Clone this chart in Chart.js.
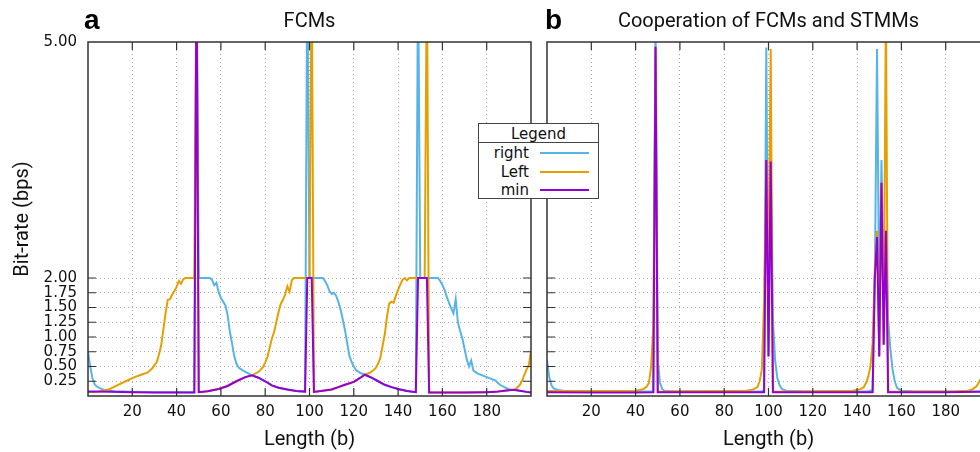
<!DOCTYPE html>
<html>
<head>
<meta charset="utf-8">
<title>FCMs / Cooperation of FCMs and STMMs</title>
<script src="https://cdn.jsdelivr.net/npm/chart.js@4.4.0/dist/chart.umd.min.js"></script>
<style>
  html, body { margin: 0; padding: 0; background: #fff; overflow: hidden; }
  body { width: 980px; height: 452px; position: relative; }
  .panel { position: absolute; top: 0; height: 452px; }
  #panelA { left: 0; width: 540px; }
  #panelB { left: 540px; width: 460px; }
  #legend {
    position: absolute; left: 478px; top: 123px; width: 121px; height: 76px;
    border: 1.5px solid #444; background: #fff; box-sizing: border-box; z-index: 2;
    font-family: "DejaVu Sans"; font-size: 15px; color: #111;
  }
  #legend .head { position: absolute; left: 0; top: 0; width: 100%; height: 18px;
    line-height: 20px; text-align: center; border-bottom: 1.5px solid #444; }
  #legend .row { position: absolute; left: 0; width: 100%; height: 18px; line-height: 18px; }
  #legend .name { position: absolute; left: 0; width: 50px; text-align: right; }
  #legend .swatch { position: absolute; left: 61px; width: 49px; height: 2px; top: 8px; }
</style>
</head>
<body>
<div class="panel" id="panelA"><canvas id="chartA"></canvas></div>
<div class="panel" id="panelB"><canvas id="chartB"></canvas></div>
<div id="legend"></div>

<script>
/*======== DATOS =============*/
const lengthTicks = [20, 40, 60, 80, 100, 120, 140, 160, 180];
const rateTicks = [0.25, 0.50, 0.75, 1.00, 1.25, 1.50, 1.75, 2.00, 5.00];
const seriesNames = ['right', 'Left', 'min'];
const seriesColors = ['#56b4e9', '#e69f00', '#9400d3'];

// panel a: FCMs  [length, bps]
const fcmRight = [[0,0.75],[1,0.50],[2,0.30],[3,0.20],[4,0.16],[6,0.12],[8,0.10],[12,0.08],[20,0.07],[30,0.065],[48,0.065],[49,6.0],[50,2.0],[55,2.0],[56,1.97],[57,1.88],[58,1.92],[59,1.76],[60,1.66],[61,1.60],[62,1.54],[63,1.38],[64,1.10],[65,0.90],[66,0.68],[67,0.55],[68,0.48],[70,0.43],[72,0.39],[74,0.35],[77,0.31],[80,0.25],[83,0.18],[86,0.14],[90,0.11],[94,0.085],[98,0.075],[99,6.0],[100,2.0],[106,2.0],[107,1.95],[108,1.88],[109,1.78],[110,1.73],[111,1.75],[112,1.70],[113,1.60],[114,1.47],[115,1.30],[116,1.12],[117,0.90],[118,0.68],[119,0.58],[120,0.50],[121,0.44],[123,0.39],[125,0.36],[128,0.31],[131,0.25],[134,0.19],[137,0.15],[140,0.12],[144,0.085],[148,0.065],[149,6.0],[150,2.0],[158,2.0],[159,1.95],[160,1.88],[161,1.80],[162,1.68],[163,1.58],[164,1.48],[165,1.40],[166,1.64],[167,1.25],[168,1.10],[169,0.98],[170,0.80],[171,0.62],[172,0.50],[173,0.60],[174,0.43],[176,0.38],[180,0.32],[184,0.26],[186,0.19],[188,0.15],[190,0.115],[192,0.10],[195,0.09],[198,0.07],[200,0.06]];
const fcmLeft = [[0,0.065],[4,0.07],[6,0.085],[8,0.10],[10,0.12],[12,0.16],[17,0.25],[21,0.32],[24,0.36],[27,0.40],[29,0.47],[31,0.57],[32,0.70],[33,0.85],[34,1.12],[35,1.40],[36,1.63],[37,1.64],[38,1.72],[39,1.78],[40,1.85],[41,1.95],[42,1.90],[43,1.98],[44,2.0],[48,2.0],[49,6.0],[50,0.065],[54,0.08],[59,0.12],[63,0.17],[67,0.25],[71,0.32],[74,0.35],[77,0.41],[79,0.49],[80,0.57],[81,0.66],[82,0.82],[83,0.97],[84,1.08],[85,1.25],[86,1.42],[87,1.56],[88,1.63],[89,1.72],[90,1.86],[91,1.77],[92,1.96],[93,2.0],[100,2.0],[101,6.0],[102,0.07],[106,0.09],[110,0.11],[113,0.15],[116,0.19],[120,0.24],[123,0.31],[125,0.36],[127,0.39],[129,0.44],[130,0.48],[131,0.55],[132,0.65],[133,0.85],[134,1.05],[135,1.35],[136,1.57],[137,1.60],[138,1.58],[139,1.70],[140,1.80],[141,1.89],[142,1.97],[143,2.0],[144,1.96],[145,2.0],[152,2.0],[153,6.0],[154,0.06],[170,0.06],[180,0.065],[184,0.07],[188,0.09],[191,0.10],[193,0.12],[194,0.15],[195,0.19],[196,0.26],[197,0.36],[198,0.45],[199,0.52],[200,0.76]];
const fcmMin = [[0,0.075],[10,0.07],[20,0.065],[30,0.06],[48,0.06],[49,6.0],[50,0.065],[54,0.08],[59,0.12],[63,0.17],[67,0.25],[71,0.32],[74,0.35],[77,0.31],[80,0.25],[83,0.18],[86,0.14],[90,0.11],[94,0.085],[98,0.075],[99,2.0],[101,2.0],[102,0.07],[106,0.09],[110,0.11],[113,0.15],[116,0.19],[120,0.24],[123,0.31],[125,0.36],[128,0.31],[131,0.25],[134,0.19],[137,0.15],[140,0.12],[144,0.085],[148,0.065],[149,2.0],[153,2.0],[154,0.06],[170,0.06],[180,0.065],[184,0.07],[188,0.09],[191,0.10],[193,0.10],[195,0.09],[198,0.07],[200,0.06]];

// panel b: Cooperation of FCMs and STMMs
const coopRight = [[0,0.60],[1,0.32],[2,0.18],[3,0.13],[5,0.10],[8,0.085],[15,0.08],[30,0.075],[47,0.075],[48,0.08],[49,5.3],[50,0.62],[51,0.22],[52,0.12],[53,0.09],[56,0.08],[75,0.075],[97,0.08],[98,0.09],[99,4.93],[100,0.67],[101,3.48],[102,1.3],[103,0.6],[104,0.3],[105,0.18],[106,0.12],[108,0.09],[115,0.08],[130,0.075],[145,0.08],[147,0.1],[148,2.0],[149,4.91],[150,1.5],[151,3.5],[152,2.0],[153,2.6],[154,1.3],[155,0.8],[156,0.45],[157,0.25],[158,0.14],[160,0.09],[165,0.08],[180,0.075],[200,0.075]];
const coopLeft = [[0,0.085],[30,0.085],[40,0.09],[43,0.11],[44,0.13],[45,0.16],[46,0.22],[47,0.5],[48,1.2],[49,4.94],[50,0.07],[60,0.08],[80,0.085],[90,0.09],[93,0.11],[95,0.15],[96,0.25],[97,0.45],[98,1.6],[99,3.5],[100,2.2],[101,4.91],[102,0.07],[120,0.08],[138,0.09],[141,0.11],[143,0.15],[144,0.22],[145,0.32],[146,0.5],[147,0.9],[148,2.1],[149,2.6],[150,0.67],[151,3.21],[152,0.87],[153,5.5],[154,0.07],[170,0.075],[185,0.08],[190,0.09],[192,0.11],[194,0.17],[196,0.3],[198,0.5],[200,0.75]];
const coopMin = [[0,0.065],[20,0.06],[40,0.06],[48,0.065],[49,4.94],[50,0.065],[70,0.065],[98,0.065],[99,3.5],[100,0.67],[101,3.48],[102,0.065],[130,0.065],[147,0.065],[148,2.0],[149,2.52],[150,0.67],[151,3.21],[152,0.87],[153,2.6],[154,0.065],[180,0.065],[195,0.07],[200,0.07]];

/*======== EJE Y: por encima de 2 bps la escala se estira =============*/
const breakAt = 2, stretch = 4 / 3;
const toAxis = v => v <= breakAt ? v : breakAt + (v - breakAt) * stretch;
const fromAxis = a => a <= breakAt ? a : breakAt + (a - breakAt) / stretch;

Chart.defaults.font.family = 'Roboto';
Chart.defaults.color = '#111';

// marco de gnuplot: borde, marcas hacia dentro y la letra del panel
const frame = {
	id: 'frame',
	afterDatasetsDraw(chart, args, opts){
		const {ctx, chartArea: a, scales: {x, y}} = chart;
		ctx.save();
		ctx.strokeStyle = '#333';
		ctx.lineWidth = 1.2;
		ctx.beginPath();
		x.ticks.forEach(t => {
			const p = x.getPixelForValue(t.value);
			ctx.moveTo(p, a.bottom); ctx.lineTo(p, a.bottom - 8);
			ctx.moveTo(p, a.top); ctx.lineTo(p, a.top + 8);
		});
		y.ticks.forEach(t => {
			if(t.value >= y.max) return;
			const p = y.getPixelForValue(t.value);
			ctx.moveTo(a.left, p); ctx.lineTo(a.left + 8, p);
			ctx.moveTo(a.right, p); ctx.lineTo(a.right - 8, p);
		});
		ctx.stroke();
		ctx.lineWidth = 1.5;
		ctx.strokeRect(a.left, a.top, a.right - a.left, a.bottom - a.top);
		ctx.fillStyle = '#000';
		ctx.font = 'bold 28px "Liberation Sans"';
		ctx.textBaseline = 'alphabetic';
		ctx.fillText(opts.tag, opts.tagX, opts.tagY);
		ctx.restore();
	}
};

function makePanel(canvasId, tag, tagX, title, series, showY, yWidth, padRight){
	const datasets = series.map((pts, i) => ({
		label: seriesNames[i],
		data: pts.map(([x, v]) => ({x: x, y: toAxis(v)})),
		borderColor: seriesColors[i],
		borderWidth: 2,
		pointRadius: 0,
		tension: 0,
		fill: false,
		clip: 0,
		order: 3 - i
	}));
	return new Chart(document.getElementById(canvasId), {
		type: 'line',
		data: {datasets: datasets},
		plugins: [frame],
		options: {
			responsive: true,
			maintainAspectRatio: false,
			animation: false,
			layout: {padding: {left: 0, right: padRight, top: 0, bottom: 0}},
			plugins: {
				legend: {display: false},
				tooltip: {enabled: false},
				title: {display: true, text: title, fullSize: false, color: '#111',
					font: {size: 20, weight: 'normal'}, padding: {top: 10, bottom: 8}},
				frame: {tag: tag, tagX: tagX, tagY: 29}
			},
			scales: {
				x: {
					type: 'linear', min: 0, max: 200,
					afterBuildTicks: s => { s.ticks = lengthTicks.map(v => ({value: v})); },
					afterFit: s => { s.height = 56; },
					ticks: {autoSkip: false, maxRotation: 0, padding: 7, color: '#111',
						font: {family: 'DejaVu Sans', size: 15}},
					grid: {drawTicks: false, color: '#aaa'},
					border: {display: false, dash: [1, 3]},
					title: {display: true, text: 'Length (b)', color: '#111',
						font: {size: 20}, padding: {top: 0, bottom: 0}}
				},
				y: {
					type: 'linear', min: 0, max: toAxis(5),
					afterBuildTicks: s => { s.ticks = rateTicks.map(v => ({value: toAxis(v)})); },
					afterFit: s => { s.width = yWidth; },
					ticks: {display: showY, autoSkip: false, padding: 11, color: '#111',
						font: {family: 'DejaVu Sans', size: 15},
						callback: v => fromAxis(v).toFixed(2)},
					grid: {drawTicks: false,
						color: c => (c.tick && c.tick.value >= toAxis(5)) ? 'rgba(0,0,0,0)' : '#aaa'},
					border: {display: false, dash: [1, 3]},
					title: {display: showY, text: 'Bit-rate (bps)', color: '#111',
						font: {size: 20}, padding: {top: 11, bottom: 0}}
				}
			}
		}
	});
}

makePanel('chartA', 'a', 84, 'FCMs', [fcmRight, fcmLeft, fcmMin], true, 88, 9);
makePanel('chartB', 'b', 5, 'Cooperation of FCMs and STMMs', [coopRight, coopLeft, coopMin], false, 7, 10);

/*======== LEYENDA =============*/
const legend = document.getElementById('legend');
legend.innerHTML = '<div class="head">Legend</div>' + seriesNames.map((n, i) =>
	`<div class="row" style="top:${20 + i * 18.6}px"><span class="name">${n}</span>` +
	`<span class="swatch" style="background:${seriesColors[i]}"></span></div>`).join('');
</script>
</body>
</html>
